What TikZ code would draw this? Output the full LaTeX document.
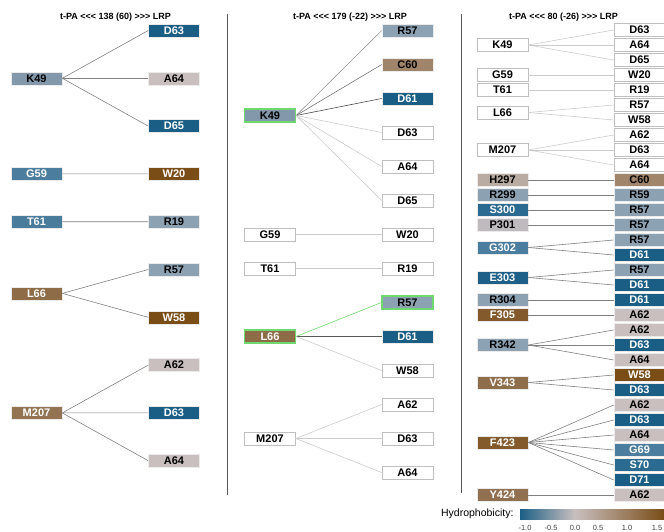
\documentclass[tikz,border=0pt]{standalone}
\usepackage{fontspec}
\setmainfont{Liberation Sans}
\usepackage{tikz}

\definecolor{cD}{HTML}{1B5E85}
\definecolor{cE}{HTML}{1E6087}
\definecolor{cS}{HTML}{2C6B91}
\definecolor{cG}{HTML}{4B7E9E}
\definecolor{cT}{HTML}{497B9A}
\definecolor{cK}{HTML}{8398AA}
\definecolor{cR}{HTML}{8CA1B2}
\definecolor{cA}{HTML}{C9BFBF}
\definecolor{cP}{HTML}{BEBABD}
\definecolor{cH}{HTML}{B9ACA2}
\definecolor{cC}{HTML}{A0856A}
\definecolor{cM}{HTML}{927453}
\definecolor{cL}{HTML}{8D6C47}
\definecolor{cV}{HTML}{8E6D4A}
\definecolor{cY}{HTML}{907050}
\definecolor{cF}{HTML}{825A2C}
\definecolor{cW}{HTML}{7A4D17}
\definecolor{cHit}{HTML}{6FD86F}

\newcommand\tripleless{<\kern0pt<\kern0pt<}
\newcommand\triplemore{>\kern0pt>\kern0pt>}

\pgfdeclarehorizontalshading{hydro}{100bp}{color(0bp)=(cD); color(25bp)=(cD); color(44bp)=(cA); color(75bp)=(cW); color(100bp)=(cW)}

\begin{document}
\begin{tikzpicture}[x=1pt, y=-1pt,
    res/.style={minimum width=51pt, minimum height=13pt, inner sep=0pt, font=\bfseries\fontsize{11}{11}\selectfont, draw=black!8, line width=0.6pt},
    blank/.style={res, fill=white, draw=black!25},
    resD/.style={res, fill=cD, text=white},
    resE/.style={res, fill=cE, text=white},
    resS/.style={res, fill=cS, text=white},
    resG/.style={res, fill=cG, text=white},
    resT/.style={res, fill=cT, text=white},
    resK/.style={res, fill=cK},
    resR/.style={res, fill=cR},
    resA/.style={res, fill=cA},
    resP/.style={res, fill=cP},
    resH/.style={res, fill=cH},
    resC/.style={res, fill=cC},
    resM/.style={res, fill=cM, text=white},
    resL/.style={res, fill=cL, text=white},
    resV/.style={res, fill=cV, text=white},
    resY/.style={res, fill=cY, text=white},
    resF/.style={res, fill=cF, text=white},
    resW/.style={res, fill=cW, text=white},
    hit/.style={draw=cHit, line width=1.2pt},
    resRhit/.style={resR, hit},
    link/.style={draw=black!50, line width=0.6pt},
    dim/.style={draw=black!20, line width=0.6pt},
    heading/.style={font=\bfseries\fontsize{9}{9}\selectfont},
    sepline/.style={draw=black!65, line width=0.8pt}
  ]
  \useasboundingbox (0,0) rectangle (664,531);

  % panel 1
  \node[heading] (a-title) at (115.5,17) {t-PA \tripleless{} 138 (60) \triplemore{} LRP};
  \node[resK] (a-k49) at (36.5,78.3) {K49};
  \node[resG] (a-g59) at (36.5,173.9) {G59};
  \node[resT] (a-t61) at (36.5,221.7) {T61};
  \node[resL] (a-l66) at (36.5,293.4) {L66};
  \node[resM] (a-m207) at (36.5,412.9) {M207};
  \foreach \lab/\sty [count=\i from 0] in {D63/resD, A64/resA, D65/resD, W20/resW, R19/resR, R57/resR, W58/resW, A62/resA, D63/resD, A64/resA}
    \node[\sty] (a-r\i) at (174,30.5+47.8*\i) {\lab};
  \foreach \j in {0,1,2} \draw[link] (a-k49.east) -- (a-r\j.west);
  \draw[link] (a-g59.east) -- (a-r3.west);
  \draw[link] (a-t61.east) -- (a-r4.west);
  \foreach \j in {5,6} \draw[link] (a-l66.east) -- (a-r\j.west);
  \foreach \j in {7,8,9} \draw[link] (a-m207.east) -- (a-r\j.west);

  \coordinate (s1-top) at (227,14);
  \coordinate (s1-bot) at (227,495);
  \draw[sepline] (s1-top) -- (s1-bot);

  % panel 2
  \node[heading] (b-title) at (350,17) {t-PA \tripleless{} 179 (-22) \triplemore{} LRP};
  \node[resK, hit] (b-k49) at (270,115.5) {K49};
  \node[blank] (b-g59) at (270,234.5) {G59};
  \node[blank] (b-t61) at (270,268.5) {T61};
  \node[resL, hit] (b-l66) at (270,336.5) {L66};
  \node[blank] (b-m207) at (270,438.5) {M207};
  \foreach \lab/\sty [count=\i from 0] in {R57/resR, C60/resC, D61/resD, D63/blank, A64/blank, D65/blank, W20/blank, R19/blank, R57/resRhit, D61/resD, W58/blank, A62/blank, D63/blank, A64/blank}
    \node[\sty] (b-r\i) at (407.5,30.5+34*\i) {\lab};
  \draw[link, draw=black!40] (b-k49.east) -- (b-r0.west);
  \draw[link, draw=black!55] (b-k49.east) -- (b-r1.west);
  \draw[link, draw=black!70] (b-k49.east) -- (b-r2.west);
  \foreach \j in {3,4,5} \draw[dim] (b-k49.east) -- (b-r\j.west);
  \draw[dim] (b-g59.east) -- (b-r6.west);
  \draw[dim] (b-t61.east) -- (b-r7.west);
  \draw[hit, line width=0.6pt] (b-l66.east) -- (b-r8.west);
  \draw[link, draw=black!65] (b-l66.east) -- (b-r9.west);
  \draw[dim] (b-l66.east) -- (b-r10.west);
  \foreach \j in {11,12,13} \draw[dim] (b-m207.east) -- (b-r\j.west);

  \coordinate (s2-top) at (461,14);
  \coordinate (s2-bot) at (461,493);
  \draw[sepline] (s2-top) -- (s2-bot);

  % panel 3
  \node[heading] (c-title) at (563.5,17) {t-PA \tripleless{} 80 (-26) \triplemore{} LRP};
  \node[blank] (c-k49) at (502.5,45) {K49};
  \node[blank] (c-g59) at (502.5,75) {G59};
  \node[blank] (c-t61) at (502.5,90) {T61};
  \node[blank] (c-l66) at (502.5,112.5) {L66};
  \node[blank] (c-m207) at (502.5,150) {M207};
  \node[resH] (c-h297) at (502.5,180) {H297};
  \node[resR] (c-r299) at (502.5,195) {R299};
  \node[resS] (c-s300) at (502.5,210) {S300};
  \node[resP] (c-p301) at (502.5,225) {P301};
  \node[resG] (c-g302) at (502.5,247.5) {G302};
  \node[resE] (c-e303) at (502.5,277.5) {E303};
  \node[resR] (c-r304) at (502.5,300) {R304};
  \node[resF] (c-f305) at (502.5,315) {F305};
  \node[resR] (c-r342) at (502.5,345) {R342};
  \node[resV] (c-v343) at (502.5,382.5) {V343};
  \node[resF] (c-f423) at (502.5,442.5) {F423};
  \node[resY] (c-y424) at (502.5,495) {Y424};
  \foreach \lab/\sty [count=\i from 0] in {D63/blank, A64/blank, D65/blank, W20/blank, R19/blank, R57/blank, W58/blank, A62/blank, D63/blank, A64/blank,
      C60/resC, R59/resR, R57/resR, R57/resR, R57/resR, D61/resD, R57/resR, D61/resD, D61/resD, A62/resA,
      A62/resA, D63/resD, A64/resA, W58/resW, D63/resD, A62/resA, D63/resD, A64/resA, G69/resG, S70/resS, D71/resD, A62/resA}
    \node[\sty] (c-r\i) at (639.5,30+15*\i) {\lab};
  \foreach \j in {0,1,2} \draw[dim] (c-k49.east) -- (c-r\j.west);
  \draw[dim] (c-g59.east) -- (c-r3.west);
  \draw[dim] (c-t61.east) -- (c-r4.west);
  \foreach \j in {5,6} \draw[dim] (c-l66.east) -- (c-r\j.west);
  \foreach \j in {7,8,9} \draw[dim] (c-m207.east) -- (c-r\j.west);
  \draw[link] (c-h297.east) -- (c-r10.west);
  \draw[link] (c-r299.east) -- (c-r11.west);
  \draw[link] (c-s300.east) -- (c-r12.west);
  \draw[link] (c-p301.east) -- (c-r13.west);
  \foreach \j in {14,15} \draw[link] (c-g302.east) -- (c-r\j.west);
  \foreach \j in {16,17} \draw[link] (c-e303.east) -- (c-r\j.west);
  \draw[link] (c-r304.east) -- (c-r18.west);
  \draw[link] (c-f305.east) -- (c-r19.west);
  \foreach \j in {20,21,22} \draw[link] (c-r342.east) -- (c-r\j.west);
  \foreach \j in {23,24} \draw[link] (c-v343.east) -- (c-r\j.west);
  \foreach \j in {25,...,30} \draw[link] (c-f423.east) -- (c-r\j.west);
  \draw[link] (c-y424.east) -- (c-r31.west);

  % colour key
  \node[anchor=east, font=\fontsize{10.5}{10.5}\selectfont] (key) at (517,514) {Hydrophobicity:};
  \shade[shading=hydro] (520,509) rectangle (664,519);
  \foreach \v/\x in {-1.0/525, -0.5/551, 0.0/575, 0.5/598, 1.0/627, 1.5/657}
    \node[font=\fontsize{7.5}{7.5}\selectfont, text=black!75] (tick\x) at (\x,527.5) {\v};
\end{tikzpicture}
\end{document}
